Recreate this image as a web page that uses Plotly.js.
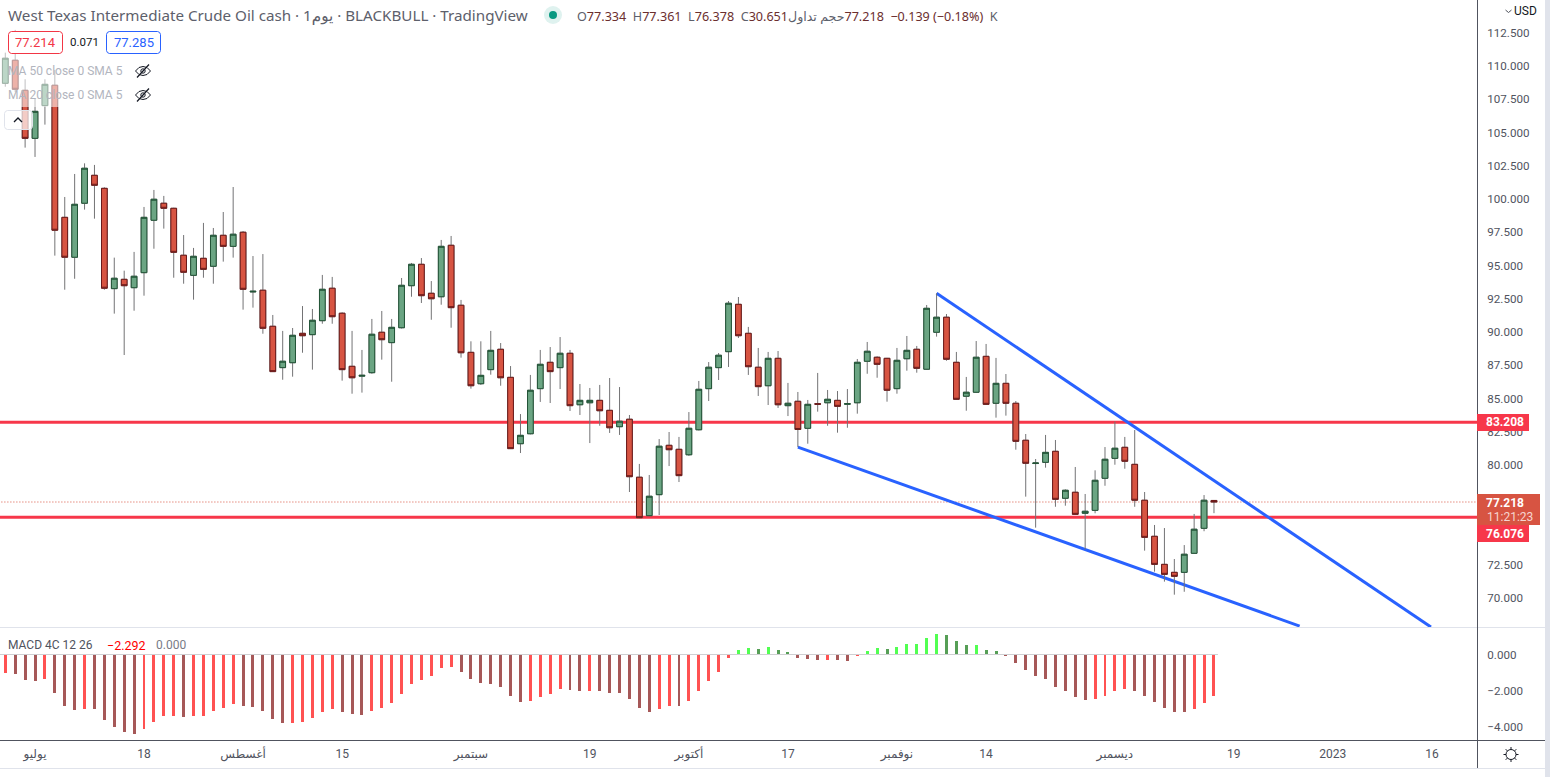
<!doctype html>
<html>
<head>
<meta charset="utf-8">
<title>WTI daily</title>
<script src="https://cdn.plot.ly/plotly-3.0.1.min.js"></script>
<style>
  html, body { margin:0; padding:0; background:#fff; overflow:hidden; }
  #chart { width:1550px; height:777px; }
</style>
</head>
<body>
<div id="chart"></div>
<script>
// daily candles
const opens = [108.70,110.43,108.17,104.56,107.02,108.55,98.62,95.62,99.68,101.78,100.80,93.26,93.96,93.33,94.46,98.40,99.68,99.30,95.77,94.26,95.54,94.94,97.27,96.44,97.50,93.01,93.14,90.43,87.32,87.69,89.90,89.80,90.85,93.29,91.41,87.42,86.68,86.94,89.98,89.20,90.32,93.48,95.09,92.91,92.65,96.52,92.01,88.47,86.11,87.17,88.70,86.59,81.60,82.35,85.74,87.72,87.32,88.40,84.53,84.68,84.86,84.11,82.88,83.44,79.08,76.19,77.77,81.48,81.18,80.77,82.65,85.74,87.32,88.52,92.08,89.90,87.35,85.96,88.02,84.46,84.79,82.76,84.61,84.68,84.86,84.57,84.68,87.80,88.10,88.02,85.74,87.99,88.70,87.20,89.98,91.11,87.72,85.17,85.47,88.17,84.64,86.14,84.64,81.86,80.11,80.20,81.03,77.50,77.95,76.37,76.59,79.00,80.50,81.33,80.05,77.35,74.64,72.53,71.93,71.93,73.36,75.24,77.334];
const highs = [111.00,112.71,109.00,107.52,109.00,109.70,100.15,101.88,102.68,102.56,100.88,95.59,94.61,96.02,99.40,100.68,100.23,99.34,97.29,96.32,98.20,97.82,99.02,100.90,97.59,95.71,95.86,91.28,90.08,90.30,91.95,91.73,94.29,94.14,91.48,90.08,88.65,90.98,91.58,90.98,94.06,95.19,95.56,93.83,96.92,97.22,92.41,89.30,89.30,90.08,89.17,87.44,83.83,86.77,88.65,88.87,89.62,88.65,86.09,85.79,86.02,86.54,85.86,83.76,80.08,79.25,81.95,82.48,82.11,83.98,86.32,87.74,88.42,92.33,92.63,90.38,88.80,88.50,88.57,86.17,85.49,84.89,86.92,85.64,85.56,85.71,87.97,89.25,88.17,88.05,88.80,89.70,88.95,92.03,92.91,91.35,88.50,86.62,89.32,89.10,88.05,86.84,84.81,82.33,80.45,82.26,81.88,78.17,79.85,77.82,79.60,81.35,83.26,82.11,82.63,77.97,75.49,75.26,72.93,73.98,76.32,77.74,77.361];
const lows = [108.44,108.05,103.86,103.16,105.59,95.74,93.18,94.00,99.20,98.52,93.18,91.38,88.27,91.60,92.73,96.26,97.77,94.08,93.63,92.43,94.08,93.63,95.29,95.59,91.68,91.83,89.87,87.00,86.41,86.64,88.44,87.17,90.62,90.62,86.34,85.36,85.44,86.86,87.92,86.26,90.26,92.65,92.18,90.92,92.05,90.32,88.07,85.74,86.02,86.79,85.96,81.20,80.90,82.30,84.74,84.66,85.71,84.06,83.76,81.65,82.95,82.41,82.26,77.97,76.00,76.15,76.24,79.92,78.72,80.68,82.60,84.81,86.39,87.37,89.55,86.77,85.19,84.51,84.29,83.68,81.35,81.60,84.01,82.95,82.43,82.80,83.86,86.86,86.56,84.76,85.36,87.09,86.94,87.15,89.65,87.84,84.90,84.08,85.42,84.52,83.56,83.71,81.15,77.62,75.29,79.80,76.86,76.94,76.25,73.66,76.37,78.44,80.02,79.72,76.86,73.56,71.98,71.23,70.25,70.47,73.32,75.02,76.378];
const closes = [110.58,108.25,104.56,106.59,108.62,97.65,95.62,99.60,102.31,101.03,93.29,94.04,93.48,94.19,98.62,99.98,99.30,95.99,94.49,95.69,94.71,97.27,96.44,97.35,93.21,93.06,90.28,87.02,87.80,89.75,89.72,90.88,93.21,91.15,87.17,86.56,86.74,89.83,89.42,90.35,93.51,95.09,92.73,92.50,96.44,91.83,88.44,85.96,86.74,88.62,86.56,81.23,82.23,85.62,87.57,87.02,88.40,84.46,84.86,84.86,84.08,82.80,83.29,79.12,76.04,77.65,81.41,81.15,79.20,82.76,85.69,87.35,88.25,92.16,89.72,87.39,85.89,88.02,84.53,84.64,82.67,84.56,84.57,84.94,84.41,84.61,87.72,88.55,87.57,85.62,87.87,88.62,87.27,91.78,91.11,87.95,84.94,85.47,88.10,84.56,86.14,84.64,81.78,80.13,80.15,80.95,77.42,78.10,76.29,76.52,78.85,80.43,81.26,80.28,77.35,74.56,72.53,71.78,71.63,73.29,75.17,77.35,77.218];

// MACD 4C histogram
const macdHist = [-1.01,-1.07,-1.40,-1.45,-1.34,-2.12,-2.84,-3.06,-3.00,-3.01,-3.61,-4.00,-4.27,-4.38,-4.11,-3.72,-3.39,-3.38,-3.44,-3.39,-3.38,-3.11,-2.95,-2.73,-2.84,-2.89,-3.11,-3.55,-3.78,-3.77,-3.72,-3.50,-3.17,-3.00,-3.17,-3.28,-3.33,-3.11,-2.95,-2.67,-2.17,-1.62,-1.40,-1.18,-0.74,-0.68,-0.96,-1.34,-1.57,-1.62,-1.79,-2.28,-2.62,-2.56,-2.34,-2.17,-1.90,-1.95,-2.01,-2.00,-2.01,-2.12,-2.13,-2.45,-2.95,-3.17,-3.00,-2.84,-2.85,-2.56,-2.01,-1.45,-0.96,-0.18,0.24,0.35,0.29,0.41,0.24,0.13,-0.18,-0.24,-0.29,-0.28,-0.29,-0.35,-0.07,0.18,0.35,0.29,0.41,0.57,0.58,0.90,1.12,1.07,0.74,0.52,0.53,0.24,0.18,-0.07,-0.46,-0.85,-1.18,-1.34,-1.79,-2.01,-2.34,-2.50,-2.45,-2.28,-2.01,-1.90,-2.01,-2.28,-2.62,-2.95,-3.17,-3.18,-3.00,-2.67,-2.292];

// axis labels
const timeTickPos = [3,14,24,34,47,59,69,79,90,99,112,124,134,144];
const timeTickText = ['يوليو','18','أغسطس','15','سبتمبر','19','أكتوبر','17','نوفمبر','14','ديسمبر','19','2023','16'];
// 75 and 77.5 are hidden behind the price tags in the original
const priceTicks = [70,72.5,80,82.5,85,87.5,90,92.5,95,97.5,100,102.5,105,107.5,110,112.5];
const macdTicks = [0,-2,-4];

// drawn levels and trend lines
const levels = [83.208, 76.076];
const lastPrice = 77.218;
const upperTrendX = [94, 143.9];
const upperTrendY = [92.91, 67.82];
const lowerTrendX = [80, 130.65];
const lowerTrendY = [81.35, 67.89];

const W = 1550, H = 777;
const FONT = 'Roboto, "DejaVu Sans", sans-serif';
const HEAD_FONT = '"Noto Sans", "DejaVu Sans", sans-serif';
const GREY = '#50535e';
const idx = opens.map((_, i) => i);
const bodyHigh = opens.map((o, i) => Math.max(o, closes[i]));
const bodyLow = opens.map((o, i) => Math.min(o, closes[i]));

// pixel helpers for the chrome around the chart (margins are 0 so paper == page)
const px = x => x / W;
const py = y => 1 - y / H;

function rect(x0, y0, x1, y1, fill){
  return {type:'rect', xref:'paper', yref:'paper', x0:px(x0), x1:px(x1), y0:py(y0), y1:py(y1), fillcolor:fill, line:{width:0}, layer:'above'};
}
function hv(x0, y0, x1, y1, color){
  return {type:'line', xref:'paper', yref:'paper', x0:px(x0), x1:px(x1), y0:py(y0), y1:py(y1), line:{color:color, width:1}, layer:'above'};
}
function circle(cx, cy, r, fill, stroke){
  return {type:'circle', xref:'paper', yref:'paper', x0:px(cx-r), x1:px(cx+r), y0:py(cy-r), y1:py(cy+r), fillcolor:fill, line: stroke ? {color:stroke, width:1} : {width:0}, layer:'above'};
}
function pathFrom(points, stroke, width, fill){
  const d = points.map(p => (p[0] === 'Z' ? 'Z' : `${p[0]}${px(p[1])},${py(p[2])}`)).join(' ');
  return {type:'path', xref:'paper', yref:'paper', path:d, line:{color:stroke, width:width}, fillcolor:fill || 'rgba(0,0,0,0)', layer:'above'};
}
function roundBox(x0, y0, x1, y1, r, stroke, fill){
  // corners are cut with short segments, close enough at this size
  const c = r * 0.3;
  return pathFrom([
    ['M',x0+r,y0],['L',x1-r,y0],['L',x1-c,y0+c],['L',x1,y0+r],['L',x1,y1-r],['L',x1-c,y1-c],['L',x1-r,y1],
    ['L',x0+r,y1],['L',x0+c,y1-c],['L',x0,y1-r],['L',x0,y0+r],['L',x0+c,y0+c],['Z']
  ], stroke, 1, fill);
}
function eyeOff(cx, cy){
  return [
    pathFrom([['M',cx-7.5,cy],['L',cx-4,cy-3.5],['L',cx,cy-4.5],['L',cx+4,cy-3.5],['L',cx+7.5,cy],['L',cx+4,cy+3.5],['L',cx,cy+4.5],['L',cx-4,cy+3.5],['Z']], '#131722', 1),
    circle(cx, cy, 2.2, 'rgba(0,0,0,0)', '#131722'),
    pathFrom([['M',cx-6,cy+6.5],['L',cx+6,cy-6.5]], '#131722', 1.2)
  ];
}
function sunIcon(cx, cy){
  const out = [circle(cx, cy, 5, '#fff', '#131722')];
  const rays = [[0,-1],[0.71,-0.71],[1,0],[0.71,0.71],[0,1],[-0.71,0.71],[-1,0],[-0.71,-0.71]];
  rays.forEach(v => out.push(pathFrom([['M',cx+v[0]*5,cy+v[1]*5],['L',cx+v[0]*7.5,cy+v[1]*7.5]], '#131722', 1)));
  return out;
}
function label(x, y, text, size, color, extra){
  return Object.assign({xref:'paper', yref:'paper', x:px(x), y:py(y), text:text, showarrow:false, xanchor:'left', yanchor:'middle',
    font:{family:FONT, size:size, color:color}, borderpad:0}, extra || {});
}

const traces = [
  // wicks: grey, full range. The body trace sits on top of it
  {type:'candlestick', x:idx, open:opens, high:highs, low:lows, close:closes, xaxis:'x', yaxis:'y', hoverinfo:'skip',
   increasing:{line:{color:'#737375', width:1}, fillcolor:'#737375'},
   decreasing:{line:{color:'#737375', width:1}, fillcolor:'#737375'}},
  {type:'candlestick', x:idx, open:opens, high:bodyHigh, low:bodyLow, close:closes, xaxis:'x', yaxis:'y',
   increasing:{line:{color:'#225437', width:1}, fillcolor:'#6ba583'},
   decreasing:{line:{color:'#6b1a1a', width:1}, fillcolor:'#d75442'}},
  {type:'bar', x:idx, y:macdHist, xaxis:'x2', yaxis:'y2', width:0.3, hoverinfo:'skip',
   marker:{line:{width:0}, color:macdHist.map((v, i) => {
     const rising = i === 0 || v >= macdHist[i-1];
     if (v >= 0) return rising ? '#52ff52' : '#569f56';
     return rising ? '#ff5252' : '#a65858';
   })}}
];

const shapes = [
  // levels and trend lines under the candles
  {type:'line', xref:'x', yref:'y', x0:-1, x1:149, y0:lastPrice, y1:lastPrice, line:{color:'#d75442', width:1, dash:'1px,2px'}, layer:'below'},
  ...levels.map(v => ({type:'line', xref:'x', yref:'y', x0:-1, x1:149, y0:v, y1:v, line:{color:'#f7374a', width:3}, layer:'below'})),
  {type:'line', xref:'x', yref:'y', x0:upperTrendX[0], x1:upperTrendX[1], y0:upperTrendY[0], y1:upperTrendY[1], line:{color:'#2962ff', width:3}, layer:'below'},
  {type:'line', xref:'x', yref:'y', x0:lowerTrendX[0], x1:lowerTrendX[1], y0:lowerTrendY[0], y1:lowerTrendY[1], line:{color:'#2962ff', width:3}, layer:'below'},
  // macd zero line
  {type:'line', xref:'x2', yref:'y2', x0:-1, x1:122.4, y0:0, y1:0, line:{color:'#cfcfd2', width:1}, layer:'above'},

  // legend backdrop that washes out the first candles
  rect(0, 28, 165, 107, 'rgba(255,255,255,0.55)'),
  roundBox(8.5, 31.5, 62.5, 53.5, 3, '#f23645', '#fff'),
  roundBox(106.5, 31.5, 160.5, 53.5, 3, '#2962ff', '#fff'),
  roundBox(4.5, 110.5, 32.5, 129.5, 3, '#e0e3eb', 'rgba(255,255,255,0.7)'),
  pathFrom([['M',14,122],['L',18,118],['L',22,122]], '#131722', 1.3),
  ...eyeOff(143, 71),
  ...eyeOff(143, 95),

  // status dot
  circle(553, 15, 9, 'rgba(8,153,129,0.13)'),
  circle(553, 15, 4, '#089981'),

  // frame
  hv(0, 627.5, 1477, 627.5, '#e0e3eb'),
  hv(1477, 627.5, 1545, 627.5, '#e0e3eb'),
  hv(0, 740.5, 1545, 740.5, GREY),
  hv(0, 768.5, 1545, 768.5, '#e0e3eb'),
  hv(1477.5, 0, 1477.5, 768, GREY),
  rect(1545, 0, 1550, 777, '#e0e3eb'),
  ...sunIcon(1511, 754.5),
  pathFrom([['M',1505.5,10],['L',1508.5,12.5],['L',1511.5,10]], '#50535e', 1),

  // price tags
  rect(1477, 414, 1529, 431, '#f7374a'),
  rect(1477, 494, 1540, 525, '#d75442'),
  rect(1477, 525, 1529, 542, '#f7374a')
];

const tagFont = {family:FONT, size:12, color:'#fff', weight:'bold'};
const annotations = [
  label(7, 15, 'West Texas Intermediate Crude Oil cash · 1يوم · BLACKBULL · TradingView', 15.2, '#5d606b', {font:{family:HEAD_FONT, size:15.2, color:'#5d606b'}}),
  label(576, 16.5, '<span style="color:#5d606b">O</span>77.334  <span style="color:#5d606b">H</span>77.361  <span style="color:#5d606b">L</span>76.378  <span style="color:#5d606b">C</span>30.651<span style="color:#5d606b">حجم تداول</span>\u200E77.218  \u22120.139 (\u22120.18%)  <span style="color:#5d606b">K</span>', 12.6, '#6b2e2e', {font:{family:HEAD_FONT, size:12.6, color:'#6b2e2e'}}),
  label(35.5, 42.5, '77.214', 13, '#f23645', {xanchor:'center'}),
  label(84, 42.5, '0.071', 11.5, '#131722', {xanchor:'center'}),
  label(133.5, 42.5, '77.285', 13, '#2962ff', {xanchor:'center'}),
  label(7, 71, 'MA 50 close 0 SMA 5', 12, '#b2b5be'),
  label(7, 95, 'MA 20 close 0 SMA 5', 12, '#b2b5be'),
  label(7, 645, 'MACD 4C 12 26', 12, '#50535e'),
  label(106, 645, '\u22122.292', 12.5, '#ff0000'),
  label(155, 645, '0.000', 12, '#787b86'),
  label(1513, 11, 'USD', 12, '#131722'),
  // tags sit on the price axis, the 76.076 one is pushed down off the last price tag
  label(1504.5, 422.5, levels[0].toFixed(3), 12, '#fff', {xanchor:'center', font:tagFont}),
  label(1504.5, 502.5, lastPrice.toFixed(3), 12, '#fff', {xanchor:'center', font:tagFont}),
  label(1510, 516.5, '11:21:23', 12, '#f6d5cf', {xanchor:'center'}),
  label(1504.5, 533.5, levels[1].toFixed(3), 12, '#fff', {xanchor:'center', font:tagFont})
];

const xRange = [-0.535, 148.55];
const tickFont = {family:FONT, size:11.6, color:GREY};
const layout = {
  width:W, height:H, margin:{l:0, r:0, t:0, b:0}, autosize:false,
  paper_bgcolor:'#fff', plot_bgcolor:'#fff', showlegend:false, bargap:0, dragmode:false,
  boxgap:0.24, boxgroupgap:0.24, // wider candle bodies than the default
  font:{family:FONT, size:12, color:GREY},
  xaxis:{domain:[0, 1477/W], range:xRange, anchor:'y', showticklabels:false, showgrid:false, zeroline:false, ticks:'', rangeslider:{visible:false}},
  yaxis:{domain:[py(627), 1], range:[67.82, 114.96], side:'right', anchor:'x', tickvals:priceTicks, tickformat:'.3f', showgrid:false, zeroline:false, ticks:'outside', ticklen:7, tickcolor:'rgba(0,0,0,0)', tickfont:tickFont},
  xaxis2:{domain:[0, 1477/W], range:xRange, anchor:'y2', tickmode:'array', tickvals:timeTickPos, ticktext:timeTickText, tickangle:0, showgrid:false, zeroline:false, ticks:'outside', ticklen:3, tickcolor:'rgba(0,0,0,0)', tickfont:{family:FONT, size:12, color:GREY}},
  yaxis2:{domain:[py(740), py(628)], range:[-4.724, 1.464], side:'right', anchor:'x2', tickvals:macdTicks, tickformat:'.3f', showgrid:false, zeroline:false, ticks:'outside', ticklen:7, tickcolor:'rgba(0,0,0,0)', tickfont:tickFont},
  shapes:shapes,
  annotations:annotations
};

Plotly.newPlot('chart', traces, layout, {displayModeBar:false, staticPlot:true});
</script>
</body>
</html>
